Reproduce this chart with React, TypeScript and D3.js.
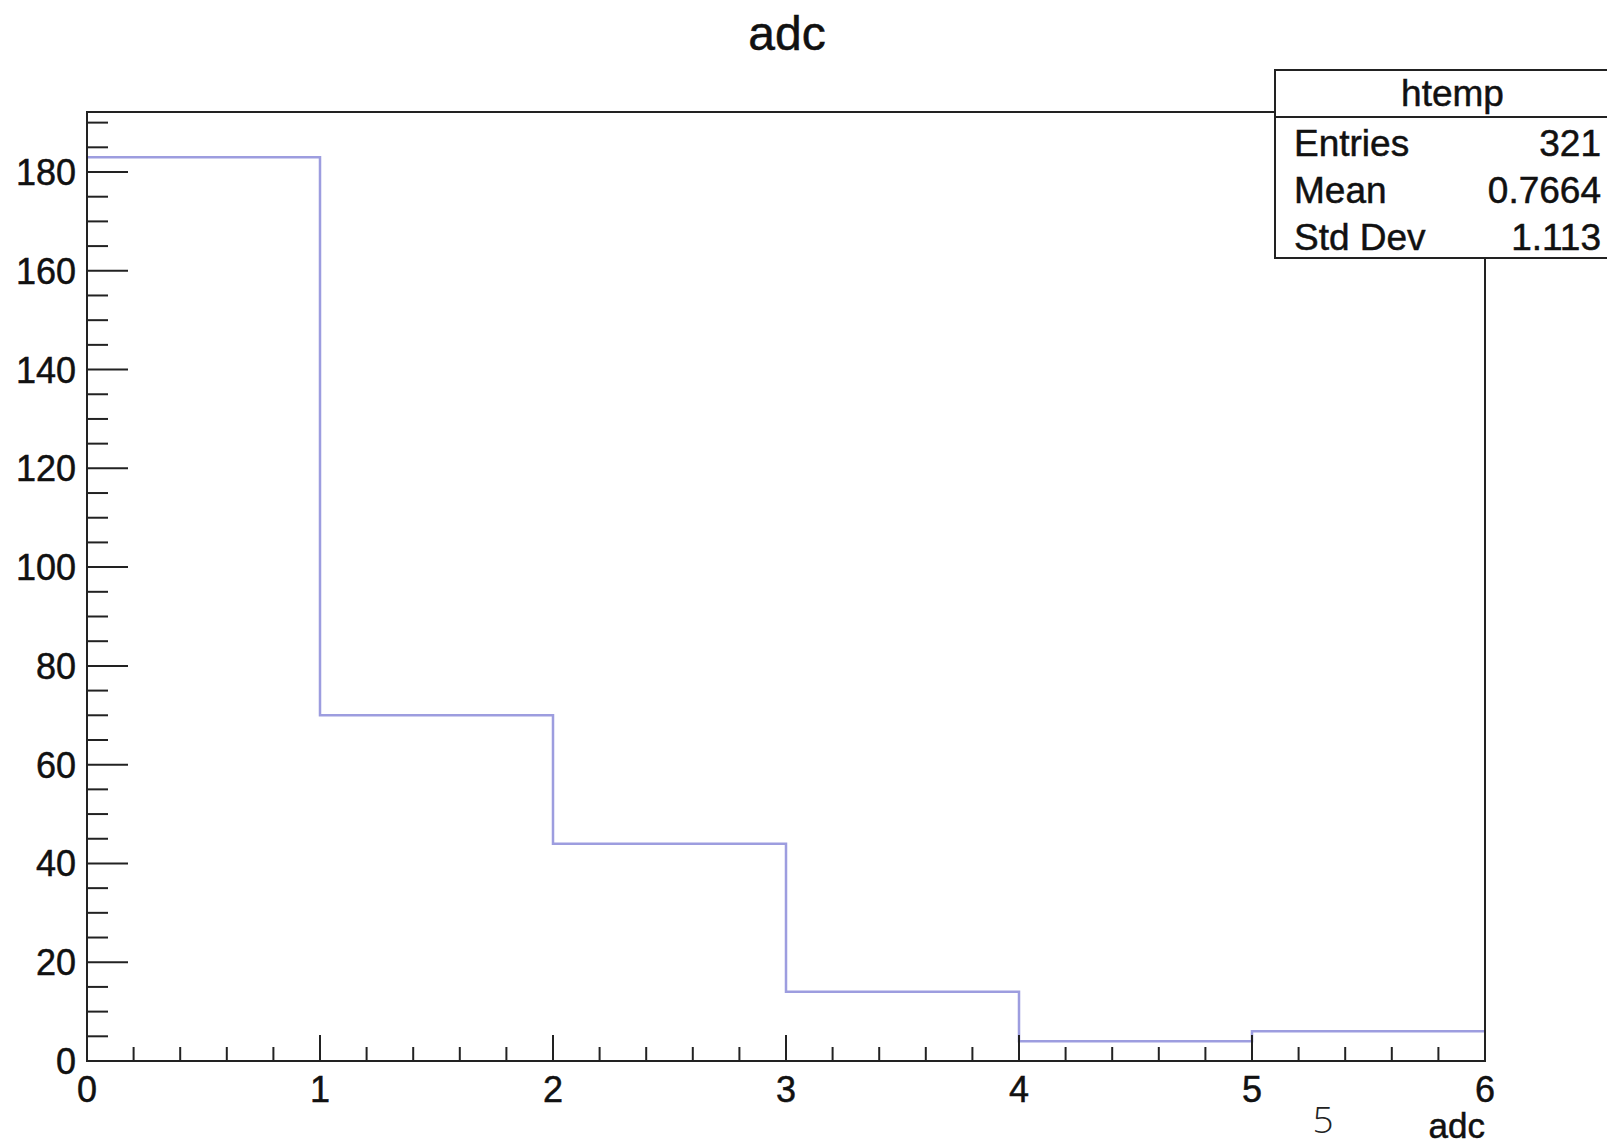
import React, { useEffect, useRef } from 'react';
import * as d3 from 'd3';

// histogram "adc" (ROOT htemp)
const binEdges = [0, 1, 2, 3, 4, 5, 6];
const binCounts = [183, 70, 44, 14, 4, 6];
const xMajorTicks = [0, 1, 2, 3, 4, 5, 6];
const yMajorTicks = [0, 20, 40, 60, 80, 100, 120, 140, 160, 180];
const statsLabels = ['Entries', 'Mean', 'Std Dev'];
const statsValues = ['321', '0.7664', '1.113'];

const FONT = '"Liberation Sans", Arial, Helvetica, sans-serif';

function App() {
  const svgRef = useRef(null);

  useEffect(() => {
    const svg = d3.select(svgRef.current);
    svg.selectAll('*').remove();

    const width = 1607;
    const height = 1146;
    const frame = { left: 87, right: 1485, top: 112, bottom: 1061 };

    const yMax = d3.max(binCounts) * 1.05;

    const x = d3.scaleLinear().domain([0, 6]).range([frame.left, frame.right]);
    const y = d3.scaleLinear().domain([0, yMax]).range([frame.bottom, frame.top]);

    // helvetica on the original looks a bit heavier, thin stroke fakes it
    const styleText = sel => sel
      .style('font-family', FONT)
      .attr('fill', '#111')
      .attr('stroke', '#111')
      .attr('stroke-width', 0.5);

    svg.append('rect')
      .attr('width', width)
      .attr('height', height)
      .attr('fill', 'white');

    // title
    svg.append('text')
      .attr('x', 787)
      .attr('y', 50)
      .attr('text-anchor', 'middle')
      .call(styleText)
      .style('font-size', '48px')
      .text('adc');

    // histogram outline
    const pts = [];
    binCounts.forEach((c, i) => {
      pts.push([binEdges[i], c]);
      pts.push([binEdges[i + 1], c]);
    });
    svg.append('path')
      .datum(pts)
      .attr('fill', 'none')
      .attr('stroke', '#9d9ddf')
      .attr('stroke-width', 2.5)
      .attr('d', d3.line().x(d => x(d[0])).y(d => y(d[1])));

    // frame
    svg.append('rect')
      .attr('x', frame.left)
      .attr('y', frame.top)
      .attr('width', frame.right - frame.left)
      .attr('height', frame.bottom - frame.top)
      .attr('fill', 'none')
      .attr('stroke', '#222')
      .attr('stroke-width', 2);

    // y ticks: major every 20, minor every 5
    const yMinor = d3.range(0, 191, 5).filter(v => v % 20 !== 0);
    svg.append('g')
      .selectAll('line')
      .data(yMinor)
      .enter().append('line')
      .attr('x1', frame.left)
      .attr('x2', frame.left + 21)
      .attr('y1', d => y(d))
      .attr('y2', d => y(d))
      .attr('stroke', '#222')
      .attr('stroke-width', 2);

    const yAxisG = svg.append('g');
    yAxisG.selectAll('line')
      .data(yMajorTicks)
      .enter().append('line')
      .attr('x1', frame.left)
      .attr('x2', frame.left + 41)
      .attr('y1', d => y(d))
      .attr('y2', d => y(d))
      .attr('stroke', '#222')
      .attr('stroke-width', 2);
    yAxisG.selectAll('text')
      .data(yMajorTicks)
      .enter().append('text')
      .attr('x', frame.left - 11)
      .attr('y', d => y(d))
      .attr('dy', '0.36em')
      .attr('text-anchor', 'end')
      .call(styleText)
      .style('font-size', '36px')
      .text(d => d);

    // x ticks: major every 1, minor every 0.2
    const xMinor = d3.range(0, 30).map(i => i / 5).filter((v, i) => i % 5 !== 0);
    svg.append('g')
      .selectAll('line')
      .data(xMinor)
      .enter().append('line')
      .attr('x1', d => x(d))
      .attr('x2', d => x(d))
      .attr('y1', frame.bottom)
      .attr('y2', frame.bottom - 14)
      .attr('stroke', '#222')
      .attr('stroke-width', 2);

    const xAxisG = svg.append('g');
    xAxisG.selectAll('line')
      .data(xMajorTicks)
      .enter().append('line')
      .attr('x1', d => x(d))
      .attr('x2', d => x(d))
      .attr('y1', frame.bottom)
      .attr('y2', frame.bottom - 26)
      .attr('stroke', '#222')
      .attr('stroke-width', 2);
    xAxisG.selectAll('text')
      .data(xMajorTicks)
      .enter().append('text')
      .attr('x', d => x(d))
      .attr('y', 1102)
      .attr('text-anchor', 'middle')
      .call(styleText)
      .style('font-size', '36px')
      .text(d => d);

    // x axis title
    svg.append('text')
      .attr('x', frame.right)
      .attr('y', 1138)
      .attr('text-anchor', 'end')
      .call(styleText)
      .style('font-size', '35px')
      .text('adc');

    // stray page number
    svg.append('text')
      .attr('x', 1323)
      .attr('y', 1133)
      .attr('text-anchor', 'middle')
      .style('font-family', '"Open Sans", Lato, sans-serif')
      .style('font-weight', 300)
      .style('font-size', '37px')
      .attr('fill', '#222')
      .text('5');

    // stats box
    const box = { left: 1275, top: 70, right: 1630, bottom: 258, header: 117 };
    const statsG = svg.append('g');
    statsG.append('rect')
      .attr('x', box.left)
      .attr('y', box.top)
      .attr('width', box.right - box.left)
      .attr('height', box.bottom - box.top)
      .attr('fill', 'white')
      .attr('stroke', '#222')
      .attr('stroke-width', 2);
    statsG.append('line')
      .attr('x1', box.left)
      .attr('x2', box.right)
      .attr('y1', box.header)
      .attr('y2', box.header)
      .attr('stroke', '#222')
      .attr('stroke-width', 2);
    statsG.append('text')
      .attr('x', (box.left + box.right) / 2)
      .attr('y', 106)
      .attr('text-anchor', 'middle')
      .call(styleText)
      .style('font-size', '37px')
      .text('htemp');

    const rowY = d3.scaleLinear().domain([0, 2]).range([156, 250]);
    statsG.selectAll('text.lbl')
      .data(statsLabels)
      .enter().append('text')
      .attr('class', 'lbl')
      .attr('x', 1294)
      .attr('y', (d, i) => rowY(i))
      .call(styleText)
      .style('font-size', '37px')
      .text(d => d);
    statsG.selectAll('text.val')
      .data(statsValues)
      .enter().append('text')
      .attr('class', 'val')
      .attr('x', 1601)
      .attr('y', (d, i) => rowY(i))
      .attr('text-anchor', 'end')
      .call(styleText)
      .style('font-size', '37px')
      .text(d => d);
  }, []);

  return (
    <svg
      ref={svgRef}
      width={1607}
      height={1146}
      style={{ position: 'absolute', left: 0, top: 0 }}
    ></svg>
  );
}

export default App;
